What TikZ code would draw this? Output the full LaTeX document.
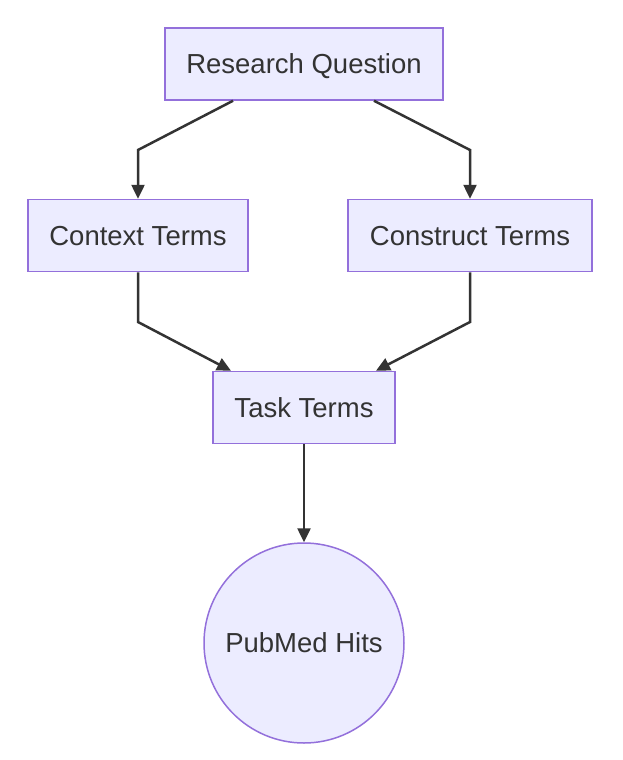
\documentclass[tikz,border=0pt]{standalone}
\usepackage{fontspec}
\setmainfont{Liberation Sans}
\usetikzlibrary{arrows.meta}
\definecolor{boxfill}{HTML}{ECECFF}
\definecolor{boxline}{HTML}{9370DB}
\definecolor{ink}{HTML}{333333}
\tikzset{
    term/.style={draw=boxline, fill=boxfill, line width=1.5pt, text=ink, minimum height=72pt, inner sep=0pt,
        text depth=0pt, font=\fontsize{27.5}{33}\selectfont},
    hits/.style={term, circle, minimum size=200pt},
    edge/.style={draw=ink, line width=2.5pt, -{Triangle[length=14pt, width=13pt]}}
}
\begin{document}
\begin{tikzpicture}[x=1pt, y=-1pt]
    \useasboundingbox (0,0) rectangle (623,760);
    \node [term, minimum width=278pt] (rq) at (304,64) {Research Question};
    \node [term, minimum width=220pt] (ctx) at (138,235.5) {Context Terms};
    \node [term, minimum width=244pt] (cons) at (470,235.5) {Construct Terms};
    \node [term, minimum width=182pt] (task) at (304,407.5) {Task Terms};
    \node [hits] (pm) at (304,643) {PubMed Hits};
    \draw [edge] ([xshift=-71pt]rq.south) -- (ctx.north |- 0,150) -- (ctx.north);
    \draw [edge] ([xshift=70pt]rq.south) -- (cons.north |- 0,150) -- (cons.north);
    \draw [edge] (ctx.south) -- (ctx.south |- 0,322) -- ([xshift=-73pt]task.north);
    \draw [edge] (cons.south) -- (cons.south |- 0,322) -- ([xshift=72pt]task.north);
    \draw [edge] (task.south) -- (pm.north);
\end{tikzpicture}
\end{document}
